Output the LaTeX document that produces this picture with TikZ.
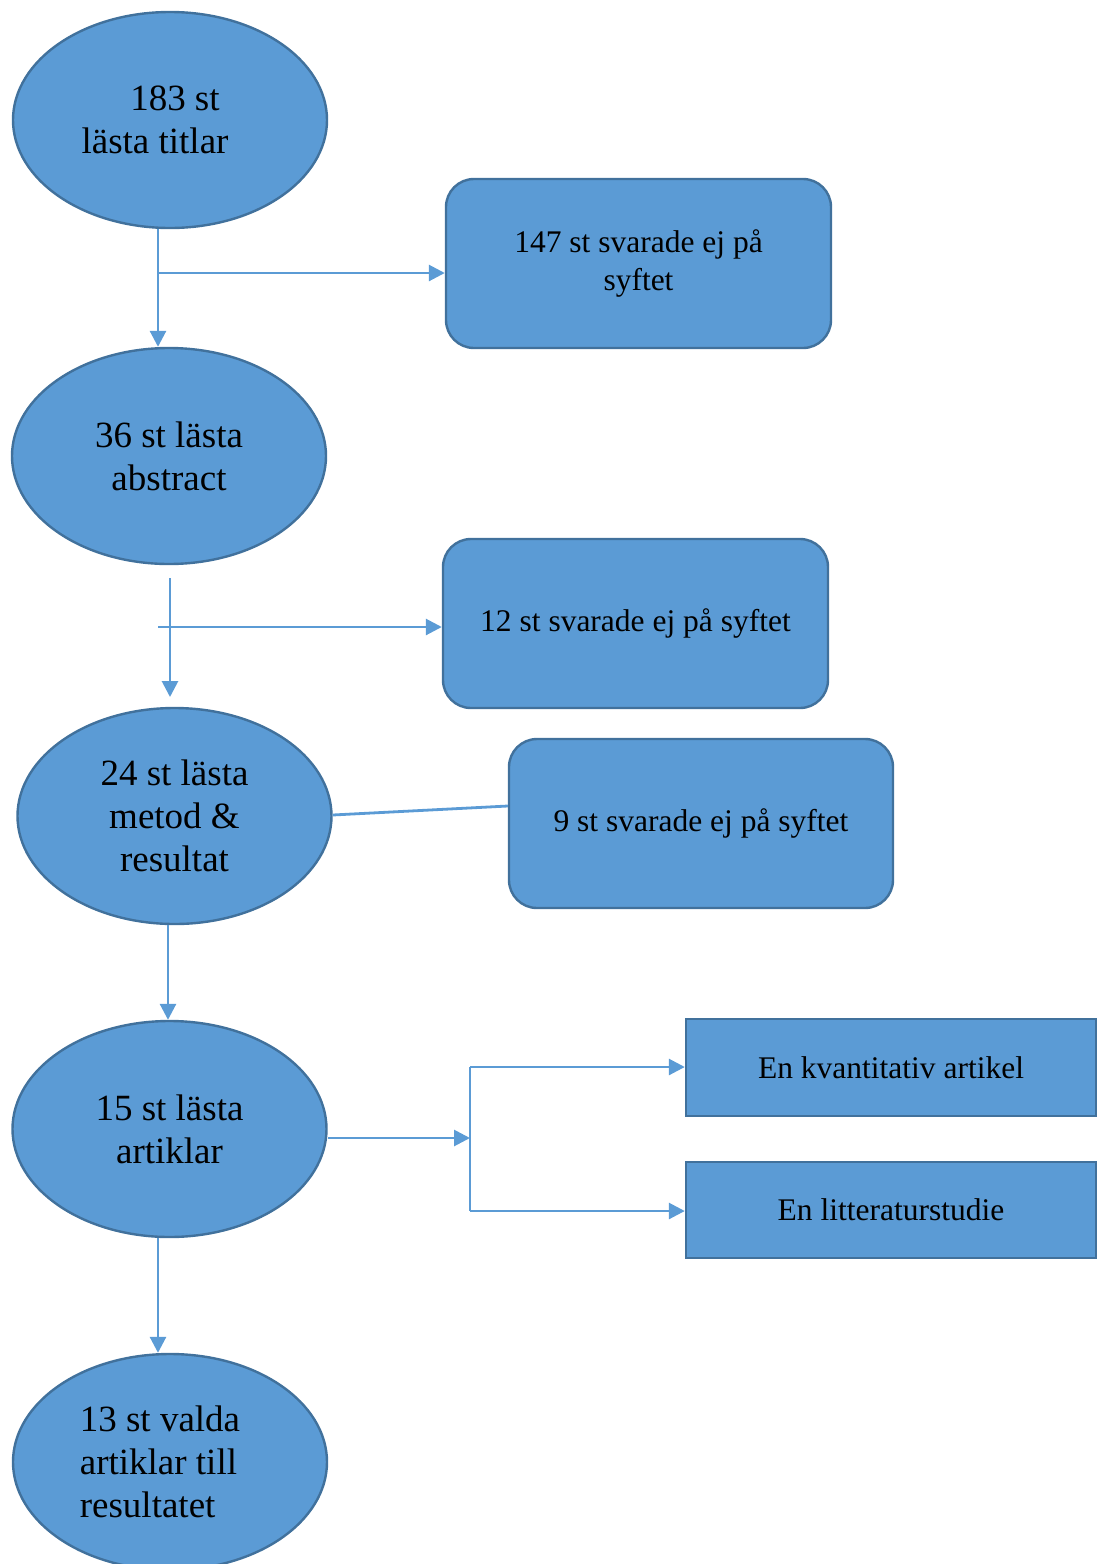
\documentclass[tikz,border=0pt]{standalone}
\usepackage{fontspec}
\setmainfont{Liberation Serif}
\usetikzlibrary{shapes.geometric,arrows.meta}
\definecolor{fillb}{HTML}{5B9BD5}
\definecolor{edgeb}{HTML}{41719C}
\begin{document}
\begin{tikzpicture}[x=1pt,y=-1pt,
  ell/.style={ellipse,draw=edgeb,fill=fillb,line width=2.4pt,minimum width=314pt,minimum height=216pt,inner sep=0pt,align=center,font=\fontsize{37}{43}\selectfont},
  rbox/.style={rectangle,rounded corners=28pt,draw=edgeb,fill=fillb,line width=2.4pt,minimum width=385pt,minimum height=169pt,inner sep=0pt,align=center,font=\fontsize{31.5}{38}\selectfont},
  sbox/.style={rectangle,draw=edgeb,fill=fillb,line width=2.4pt,minimum width=410pt,minimum height=97pt,inner sep=0pt,align=center,font=\fontsize{31.5}{38}\selectfont},
  conn/.style={draw=fillb,line width=2.8pt},
  arr/.style={conn,-{Triangle[length=16pt,width=16pt]}}]
\useasboundingbox (0,0) rectangle (1102,1564);
\node[ell] (e1) at (170,120) {\hspace*{10pt}183 st\\lästa titlar\hspace*{30pt}};
\node[ell] (e2) at (169,456) {36 st lästa\\abstract};
\node[ell] (e3) at (174.5,816) {24 st lästa\\metod \&\\resultat};
\node[ell] (e4) at (169.5,1129) {15 st lästa\\artiklar};
\node[ell,align=left] (e5) at (170,1462) {13 st valda\hspace*{20pt}\\artiklar till\\resultatet};
\node[rbox] (A) at (638.5,263.5) {147 st svarade ej på\\syftet};
\node[rbox] (B) at (635.5,623.5) {12 st svarade ej på syftet};
\node[rbox,minimum width=384pt] (C) at (701,823.5) {9 st svarade ej på syftet};
\node[sbox] (D) at (891,1067.5) {En kvantitativ artikel};
\node[sbox,minimum height=96pt] (E) at (891,1210) {En litteraturstudie};
% connectors
\coordinate (b1) at (158,273);
\draw[arr] ([xshift=-12pt]e1.south) -- ([xshift=-11pt]e2.north);
\draw[arr] (b1) -- (b1 -| A.west);
\coordinate (v2a) at (170,578);
\coordinate (v2b) at (170,697);
\coordinate (b2) at (158,627);
\draw[arr] (v2a) -- (v2b);
\draw[arr] (b2) -- (b2 -| B.west);
\draw[conn] ([yshift=1pt]e3.east) -- ([yshift=17.5pt]C.west);
\draw[arr] ([xshift=-6.5pt]e3.south) -- ([xshift=-1.5pt]e4.north);
\coordinate (j) at (470,1138);
\coordinate (jt) at (470,1067);
\coordinate (jb) at (470,1211);
\draw[arr] (e4.east |- j) -- (j);
\draw[conn] (jt) -- (jb);
\draw[arr] (jt) -- (jt -| D.west);
\draw[arr] (jb) -- (jb -| E.west);
\draw[arr] ([xshift=-11.5pt]e4.south) -- ([xshift=-12pt]e5.north);
\end{tikzpicture}
\end{document}
